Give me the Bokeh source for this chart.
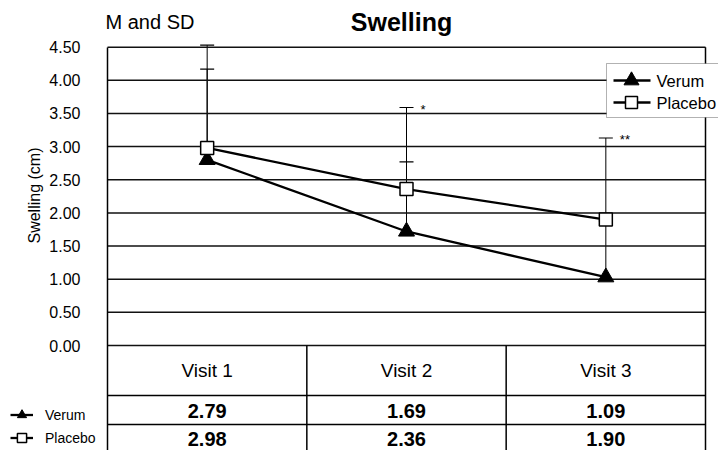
import math
from bokeh.plotting import figure
from bokeh.models import (FixedTicker, NumeralTickFormatter, LinearAxis, Range1d, Whisker,
                          TeeHead, ColumnDataSource, Label, BoxAnnotation, Legend, LegendItem)
from bokeh.core.properties import value
from bokeh.embed import file_html
from bokeh.resources import INLINE

# ---------------- data ----------------
visit_labels = ["Visit 1", "Visit 2", "Visit 3"]
visit_pos = [1, 2, 3]
verum_mean = [2.80, 1.72, 1.03]        # plotted means
placebo_mean = [2.98, 2.36, 1.90]
verum_sd = [1.37, 1.05, 0.85]
placebo_sd = [1.55, 1.23, 1.23]
verum_table = [2.79, 1.69, 1.09]       # values printed in the table
placebo_table = [2.98, 2.36, 1.90]
significance = ["", "*", "**"]
y_ticks = [0.0, 0.5, 1.0, 1.5, 2.0, 2.5, 3.0, 3.5, 4.0, 4.5]

# ---------------- layout (pixel positions on the canvas) ----------------
W, H = 718, 450
PX_LEFT, PX_RIGHT = 107, 705        # x of the chart's left / right border
PX_Y0, PX_PER_Y = 345, 66.3         # y of 0.00 and px per unit
FONT = "Liberation Sans"
X_PER_PX = 3.0 / (PX_RIGHT - PX_LEFT)


def x_at(px):
    return 0.5 + (px - PX_LEFT) * X_PER_PX


def y_at(py):
    return (PX_Y0 - py) / PX_PER_Y


x_lo, x_hi = 0.5, 3.5
y_top = y_ticks[-1]
y_bottom = y_at(H)

p = figure(width=W, height=H, output_backend="svg", toolbar_location=None,
           x_range=Range1d(x_at(0), x_at(W)), y_range=Range1d(y_at(H), y_at(0)),
           x_axis_type=None, y_axis_type=None,
           min_border_left=0, min_border_right=0, min_border_top=0, min_border_bottom=0)
p.outline_line_color = None
p.background_fill_color = "white"
p.border_fill_color = "white"

# y axis placed at the chart's left border
ya = LinearAxis(fixed_location=x_lo, bounds=(y_bottom, y_top),
                ticker=FixedTicker(ticks=y_ticks),
                formatter=NumeralTickFormatter(format="0.00"),
                major_tick_line_color=None, minor_tick_line_color=None,
                major_label_standoff=21, axis_line_color="black", axis_line_width=1.5,
                major_label_text_font=FONT, major_label_text_font_size="16px",
                major_label_text_color="black")
p.add_layout(ya, "left")

# horizontal grid lines of the chart area
p.segment(x0=[x_lo] * len(y_ticks), x1=[x_hi] * len(y_ticks), y0=y_ticks, y1=y_ticks,
          line_color="#111111", line_width=1.5)
# right border
p.segment(x0=[x_hi], x1=[x_hi], y0=[y_bottom], y1=[y_top], line_color="black", line_width=1.5)

# ---------------- table below the chart ----------------
row_lines = [y_at(395), y_at(424)]
p.segment(x0=[x_lo] * len(row_lines), x1=[x_hi] * len(row_lines), y0=row_lines, y1=row_lines,
          line_color="black", line_width=1.5)
dividers = [(a + b) / 2 for a, b in zip(visit_pos[:-1], visit_pos[1:])]
p.segment(x0=dividers, x1=dividers, y0=[0] * len(dividers), y1=[y_bottom] * len(dividers),
          line_color="black", line_width=1.5)

p.text(x=visit_pos, y=[y_at(370)] * 3, text=visit_labels, text_align="center",
       text_baseline="middle", text_font=value(FONT), text_font_size="19px",
       text_color="black")
p.text(x=visit_pos, y=[y_at(410)] * 3, text=[f"{v:.2f}" for v in verum_table],
       text_align="center", text_baseline="middle", text_font=value(FONT),
       text_font_size="20px", text_font_style="bold", text_color="black")
p.text(x=visit_pos, y=[y_at(438.5)] * 3, text=[f"{v:.2f}" for v in placebo_table],
       text_align="center", text_baseline="middle", text_font=value(FONT),
       text_font_size="20px", text_font_style="bold", text_color="black")

# ---------------- error bars ----------------
for means, sds in ((verum_mean, verum_sd), (placebo_mean, placebo_sd)):
    src = ColumnDataSource(dict(x=visit_pos, lo=means, hi=[m + s for m, s in zip(means, sds)]))
    w = Whisker(base="x", lower="lo", upper="hi", source=src, dimension="height",
                line_color="black", line_width=1, lower_head=None,
                upper_head=TeeHead(size=14, line_color="black", line_width=1.2),
                level="underlay")
    p.add_layout(w)

# significance marks next to the placebo caps
p.text(x=visit_pos, y=[m + s for m, s in zip(placebo_mean, placebo_sd)], text=significance,
       text_align="left", text_baseline="middle", x_offset=14, y_offset=2,
       text_font=value(FONT), text_font_size="13px", text_color="black")

# ---------------- series ----------------
vl = p.line(visit_pos, verum_mean, line_color="black", line_width=2.3)
pl = p.line(visit_pos, placebo_mean, line_color="black", line_width=2.3)
vs = p.scatter(visit_pos, verum_mean, marker="triangle", size=16, fill_color="black",
               line_color="black")
ps = p.scatter(visit_pos, placebo_mean, marker="square", size=13, fill_color="white",
               line_color="black", line_width=1.5)

# ---------------- main legend (top right) ----------------
p.add_layout(BoxAnnotation(left=x_at(606), right=x_at(780), top=y_at(63), bottom=y_at(117),
                           fill_color="white", fill_alpha=1, line_color="black", line_width=1))
leg_rows = [y_at(80), y_at(102)]
p.segment(x0=[x_at(613)] * 2, x1=[x_at(650)] * 2, y0=leg_rows, y1=leg_rows,
          line_color="black", line_width=2.3, level="overlay")
p.scatter([x_at(631)], [leg_rows[0]], marker="triangle", size=15, fill_color="black",
          line_color="black", level="overlay")
p.scatter([x_at(631)], [leg_rows[1]], marker="square", size=12, fill_color="white",
          line_color="black", line_width=1.5, level="overlay")
for yy, lab in zip(leg_rows, ["Verum", "Placebo"]):
    p.add_layout(Label(x=x_at(656), y=yy, text=lab, text_baseline="middle",
                       text_font=FONT, text_font_size="16.5px", text_color="black",
                       level="overlay"))

# ---------------- small legend beside the table ----------------
mini = Legend(items=[LegendItem(label="Verum", renderers=[vl, vs]),
                     LegendItem(label="Placebo", renderers=[pl, ps])],
              location=(10, 1), orientation="vertical",
              padding=0, margin=0, spacing=0, glyph_width=23, glyph_height=23,
              label_height=23, label_standoff=12, label_text_font=FONT,
              label_text_font_size="14px", label_text_color="black",
              border_line_color=None, background_fill_alpha=0)
p.add_layout(mini)

# ---------------- texts ----------------
p.add_layout(Label(x=x_at(401), y=y_at(21), text="Swelling", text_align="center",
                   text_baseline="middle", text_font=FONT, text_font_size="25px",
                   text_font_style="bold", text_color="black"))
p.add_layout(Label(x=x_at(105), y=y_at(21.5), text="M and SD", text_align="left",
                   text_baseline="middle", text_font=FONT, text_font_size="20px",
                   text_color="black"))
p.add_layout(Label(x=x_at(34), y=y_at(195), text="Swelling (cm)", angle=math.pi / 2,
                   text_align="center", text_baseline="middle",
                   text_font=FONT, text_font_size="16px", text_color="black"))

open("out.html", "w").write(file_html(p, INLINE))
